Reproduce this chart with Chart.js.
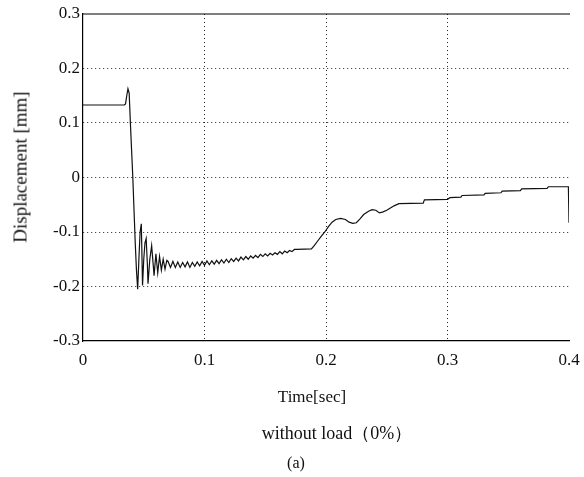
<!DOCTYPE html>
<html>
<head>
<meta charset="utf-8">
<script src="https://cdn.jsdelivr.net/npm/chart.js@4/dist/chart.umd.min.js"></script>
<style>
  html, body { margin: 0; padding: 0; background: #fff; }
  #wrap { position: relative; width: 584px; height: 477px; }
  .lbl {
    position: absolute; transform: translate(-50%, -50%);
    font-family: 'Liberation Serif', 'DejaVu Serif', serif; color: #111;
    white-space: nowrap; line-height: 1;
  }
  #yTitle { transform: translate(-50%, -50%) rotate(-90deg); }
</style>
</head>
<body>
<div id="wrap">
  <canvas id="chart" width="584" height="477"></canvas>
  <div class="lbl" id="yTitle" style="left:20px; top:167px; font-size:19px;">Displacement [mm]</div>
  <div class="lbl" style="left:312px; top:396px; font-size:17px;">Time[sec]</div>
  <div class="lbl" style="left:337px; top:433px; font-size:18px;">without load（0%）</div>
  <div class="lbl" style="left:296px; top:463px; font-size:16px;">(a)</div>
</div>
<script>
// Data
const timeSec = [
  0, 0.034, 0.035, 0.036, 0.037, 0.038, 0.039, 0.040, 0.041, 0.042, 0.043, 0.044,
  0.045, 0.046, 0.047, 0.048, 0.049, 0.050, 0.051, 0.052, 0.053, 0.0535, 0.055, 0.0565,
  0.0585, 0.060, 0.0615, 0.063, 0.0645, 0.066, 0.0675, 0.069,
  0.070, 0.072, 0.074, 0.076, 0.078, 0.080, 0.082, 0.084, 0.086, 0.088,
  0.090, 0.092, 0.094, 0.096, 0.098, 0.100, 0.102, 0.104, 0.106, 0.108,
  0.110, 0.112, 0.114, 0.116, 0.118, 0.120, 0.122, 0.124, 0.126, 0.128,
  0.130, 0.132, 0.134, 0.136, 0.138, 0.140, 0.142, 0.144, 0.146, 0.148,
  0.150, 0.152, 0.154, 0.156, 0.158, 0.160, 0.162, 0.164, 0.166, 0.168,
  0.170, 0.172, 0.174, 0.176, 0.188, 0.190, 0.193, 0.196, 0.199, 0.202,
  0.205, 0.208, 0.212, 0.216, 0.219, 0.222, 0.225, 0.228, 0.231, 0.235,
  0.238, 0.241, 0.244, 0.247, 0.250, 0.253, 0.256, 0.260, 0.280, 0.281,
  0.300, 0.302, 0.311, 0.312, 0.330, 0.331, 0.344, 0.345, 0.360, 0.361,
  0.382, 0.383, 0.3995, 0.400
];
const displacementMm = [
  0.133, 0.133, 0.135, 0.150, 0.163, 0.155, 0.100, 0.050, 0.000, -0.060, -0.120, -0.170,
  -0.205, -0.150, -0.100, -0.085, -0.198, -0.150, -0.120, -0.112, -0.160, -0.195, -0.150, -0.125,
  -0.180, -0.140, -0.175, -0.145, -0.170, -0.150, -0.168, -0.152,
  -0.154, -0.165, -0.154, -0.165, -0.155, -0.165, -0.156, -0.164, -0.155, -0.165,
  -0.156, -0.163, -0.155, -0.162, -0.154, -0.161, -0.153, -0.160, -0.153, -0.159,
  -0.152, -0.158, -0.151, -0.157, -0.150, -0.156, -0.149, -0.154, -0.148, -0.153,
  -0.146, -0.151, -0.145, -0.150, -0.144, -0.148, -0.143, -0.147, -0.141, -0.145,
  -0.140, -0.144, -0.139, -0.142, -0.138, -0.141, -0.136, -0.140, -0.135, -0.138,
  -0.134, -0.136, -0.132, -0.132, -0.131, -0.126, -0.117, -0.108, -0.100, -0.090,
  -0.082, -0.077, -0.075, -0.077, -0.082, -0.084, -0.083, -0.076, -0.068, -0.062,
  -0.059, -0.060, -0.065, -0.063, -0.060, -0.056, -0.052, -0.048, -0.047, -0.041,
  -0.040, -0.037, -0.036, -0.033, -0.032, -0.029, -0.028, -0.025, -0.024, -0.021,
  -0.020, -0.017, -0.017, -0.083
];
const xTicks = [0, 0.1, 0.2, 0.3, 0.4];
const yTicks = [-0.3, -0.2, -0.1, 0, 0.1, 0.2, 0.3];

const serif = "'Liberation Serif', 'DejaVu Serif', serif";
const fmt = (v) => String(+v.toFixed(1));

// top frame line
const topFrame = {
  id: 'topFrame',
  afterDraw(chart) {
    const { ctx, chartArea: a } = chart;
    ctx.save();
    ctx.strokeStyle = '#000';
    ctx.lineWidth = 1.2;
    ctx.beginPath();
    ctx.moveTo(a.left, a.top);
    ctx.lineTo(a.right + 1, a.top);
    ctx.stroke();
    ctx.restore();
  }
};

new Chart(document.getElementById('chart'), {
  type: 'line',
  data: {
    datasets: [{
      data: timeSec.map((t, i) => ({ x: t, y: displacementMm[i] })),
      borderColor: '#111',
      borderWidth: 1.2,
      pointRadius: 0,
      tension: 0,
      fill: false
    }]
  },
  options: {
    responsive: false,
    animation: false,
    events: [],
    layout: { padding: { top: 14, right: 15, left: 0, bottom: 0 } },
    plugins: {
      legend: { display: false },
      tooltip: { enabled: false }
    },
    scales: {
      x: {
        type: 'linear', min: 0, max: 0.4,
        afterBuildTicks: (s) => { s.ticks = xTicks.map(v => ({ value: v })); },
        afterFit: (s) => { s.height = 136; s.paddingLeft = 0; s.paddingRight = 0; },
        ticks: { color: '#111', font: { family: serif, size: 17 }, padding: 9, callback: fmt, maxRotation: 0 },
        grid: {
          drawTicks: false,
          color: (c) => (c.tick && (c.tick.value === 0 || c.tick.value === 0.4)) ? 'rgba(0,0,0,0)' : '#222',
          lineWidth: 1
        },
        border: { display: true, color: '#000', width: 1.2, dash: [1, 3] }
      },
      y: {
        type: 'linear', min: -0.3, max: 0.3,
        afterBuildTicks: (s) => { s.ticks = yTicks.map(v => ({ value: v })); },
        afterFit: (s) => { s.width = 83; s.paddingTop = 0; s.paddingBottom = 0; },
        ticks: { color: '#111', font: { family: serif, size: 17 }, padding: 3, callback: fmt },
        grid: {
          drawTicks: false,
          color: (c) => (c.tick && Math.abs(Math.abs(c.tick.value) - 0.3) < 1e-9) ? 'rgba(0,0,0,0)' : '#222',
          lineWidth: 1
        },
        border: { display: true, color: '#000', width: 1.2, dash: [1, 3] }
      }
    }
  },
  plugins: [topFrame]
});
</script>
</body>
</html>
